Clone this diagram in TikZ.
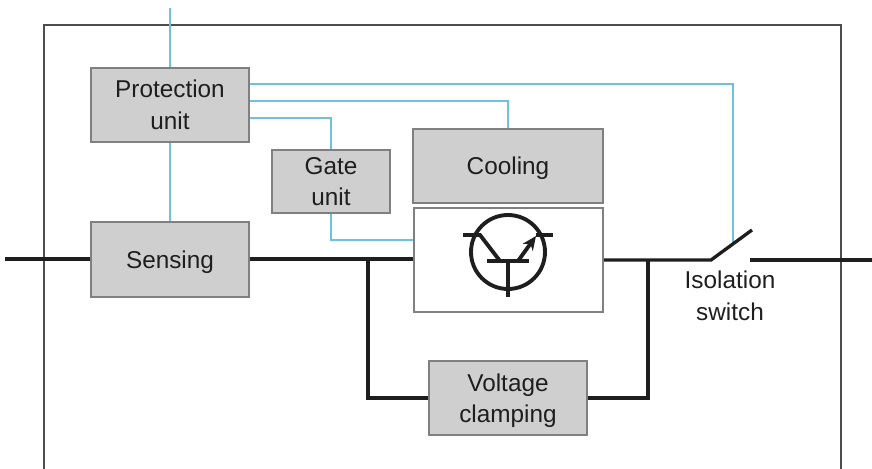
\documentclass[tikz,border=0pt]{standalone}
\usepackage{fontspec}
\usetikzlibrary{arrows.meta}
\setmainfont{Liberation Sans}
\definecolor{unitgray}{HTML}{CFCFCF}
\definecolor{edgegray}{HTML}{808080}
\definecolor{signalblue}{HTML}{6FC1E3}
\definecolor{wireblack}{HTML}{1E1E1E}
\tikzset{
  unit/.style={draw=edgegray,line width=1.2pt,fill=unitgray,text=wireblack,align=center,inner sep=0pt,
    text depth=0pt,font=\fontsize{13.85}{18}\selectfont},
  signal/.style={signalblue,line width=.85pt},
  wire/.style={wireblack,line width=1.9pt},
  symbol/.style={wireblack,line width=2.2pt},
}
\begin{document}
\begin{tikzpicture}[>=stealth,x=.02cm,y=-.02cm]
    \useasboundingbox (0,0) rectangle (872,469);
    \draw[edgegray!60!black,line width=.8pt] (44,469) -- (44,25) -- (841,25) -- (841,469);
    \node[unit,minimum width=3.16cm,minimum height=1.48cm] (protection) at (170,105) {Protection\\unit};
    \node[unit,minimum width=3.16cm,minimum height=1.5cm] (sensing) at (170,259.5) {Sensing};
    \node[unit,minimum width=2.36cm,minimum height=1.26cm] (gate) at (331,181.5) {Gate\\unit};
    \node[unit,minimum width=3.8cm,minimum height=1.48cm] (cooling) at (508,166) {Cooling};
    \node[unit,fill=white,minimum width=3.78cm,minimum height=2.08cm] (igbt) at (508.5,260) {};
    \node[unit,minimum width=3.16cm,minimum height=1.48cm] (clamping) at (508,398) {Voltage\\clamping};
    \node[text=wireblack,align=center,inner sep=0pt,font=\fontsize{13.85}{18}\selectfont] (isolation) at (730,296) {Isolation\\switch};
    \coordinate (linein) at (5,259);
    \coordinate (lineout) at (872,260);
    \coordinate (swleft) at (711,260);
    \coordinate (swtip) at (752,230);
    \coordinate (swright) at (750,260);
    \coordinate (swmid) at (733,244);
    \coordinate (cmdin) at (170,8);
    \coordinate (tapleft) at (368,259);
    \coordinate (tapright) at (648,260);
    % signal lines
    \draw[signal] (cmdin) -- (protection);
    \draw[signal] (protection) -- (sensing);
    \draw[signal] (protection.east |- 0,84) -| (swmid);
    \draw[signal] (protection.east |- 0,101) -| (cooling.north);
    \draw[signal] (protection.east |- 0,118) -| (gate.north);
    \draw[signal] (gate.south) |- (igbt.west |- 0,240);
    % power path
    \draw[wire] (linein) -- (sensing.west |- linein);
    \draw[wire] (sensing.east |- linein) -- (igbt.west |- linein);
    \draw[wire] (igbt.east |- tapright) -- (swleft) -- (swtip);
    \draw[wire] (swright) -- (lineout);
    \draw[wire] (tapleft) |- (clamping.west);
    \draw[wire] (clamping.east) -| (tapright);
    % transistor
    \draw[symbol] (508,252) circle (37);
    \draw[symbol] (463,235) -- (480,235) -- (500,261);
    \draw[symbol] (487,261) -- (529,261);
    \draw[symbol] (508,261) -- (508,297);
    \draw[symbol,-{Stealth[length=8pt,width=7pt]}] (518,261) -- (536,236);
    \draw[symbol] (536,235) -- (553,235);
  \end{tikzpicture}
\end{document}
